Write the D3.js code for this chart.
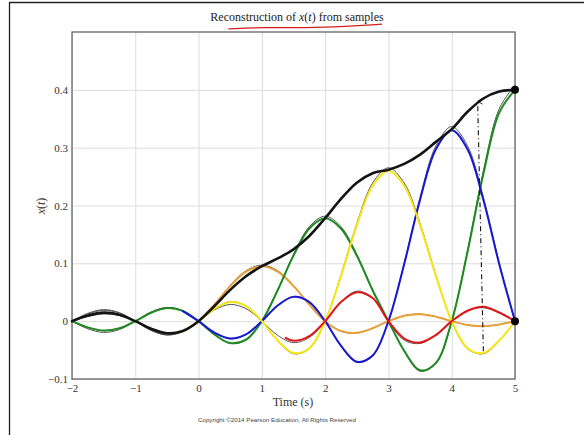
<!DOCTYPE html>
<html>
<head>
<meta charset="utf-8">
<script src="https://cdn.jsdelivr.net/npm/d3@7"></script>
<style>
  html, body { margin: 0; padding: 0; background: #fff; }
  svg { display: block; }
</style>
</head>
<body>
<svg id="chart" width="584" height="435"></svg>
<script>
// sample grid (seconds)
const times = [-2, -1.75, -1.5, -1.25, -1, -0.75, -0.5, -0.25, 0, 0.25, 0.5, 0.75, 1, 1.25, 1.5,
  1.75, 2, 2.25, 2.5, 2.75, 3, 3.25, 3.5, 3.75, 4, 4.25, 4.5, 4.75, 5];

// original thin sinc pulses, one per sample (t = 1..5)
const pulse1 = [0, 0.0078, 0.0121, 0.0095, 0, -0.0122, -0.0202, -0.0171, 0, 0.0285, 0.0605, 0.0855, 0.095, 0.0855, 0.0605,
  0.0285, 0, -0.0171, -0.0202, -0.0122, 0, 0.0095, 0.0121, 0.0078, 0, -0.0066, -0.0086, -0.0057, 0];
const pulse2 = [0, -0.0107, -0.0162, -0.0123, 0, 0.0146, 0.0227, 0.0178, 0, -0.0229, -0.0378, -0.0321, 0, 0.0534, 0.1133,
  0.1603, 0.178, 0.1603, 0.1133, 0.0534, 0, -0.0321, -0.0378, -0.0229, 0, 0.0178, 0.0227, 0.0146, 0];
const pulse3 = [0, 0.0123, 0.0184, 0.0138, 0, -0.0156, -0.0236, -0.018, 0, 0.0213, 0.0331, 0.026, 0, -0.0334, -0.0552,
  -0.0468, 0, 0.078, 0.1655, 0.2341, 0.26, 0.2341, 0.1655, 0.078, 0, -0.0468, -0.0552, -0.0334, 0];
const pulse4 = [0, -0.0129, -0.0191, -0.0142, 0, 0.0156, 0.0233, 0.0175, 0, -0.0198, -0.03, -0.0229, 0, 0.027, 0.042,
  0.033, 0, -0.0424, -0.07, -0.0594, 0, 0.099, 0.2101, 0.2971, 0.33, 0.2971, 0.2101, 0.099, 0];
const pulse5 = [0, 0.0133, 0.0196, 0.0144, 0, -0.0156, -0.0232, -0.0172, 0, 0.019, 0.0283, 0.0212, 0, -0.024, -0.0364,
  -0.0277, 0, 0.0327, 0.0509, 0.04, 0, -0.0514, -0.0849, -0.072, 0, 0.12, 0.2546, 0.3601, 0.4];

// reconstructed signal (thick black)
const reconstruction = [0, 0.0098, 0.0148, 0.0112, 0, -0.0132, -0.021, -0.017, 0, 0.0261, 0.0541, 0.0777, 0.095, 0.1085, 0.1242,
  0.1473, 0.178, 0.2115, 0.2395, 0.2559, 0.262, 0.272, 0.288, 0.31, 0.332, 0.362, 0.385, 0.397, 0.4];

// hand-coloured traces
const greenTrace = [0, -0.0107, -0.0162, -0.0123, 0, 0.0146, 0.0227, 0.0178, 0, -0.0229, -0.0378, -0.0321, 0, 0.0534, 0.1133,
  0.1603, 0.178, 0.1603, 0.1133, 0.0534, 0, -0.0514, -0.0849, -0.072, 0, 0.12, 0.2546, 0.3601, 0.4];
const redTimes = [1.375, 1.5, 1.75, 2, 2.25, 2.5, 2.75, 3, 3.25, 3.5, 3.75, 4, 4.25, 4.5, 4.75, 5];
const redTrace = [-0.029, -0.034, -0.026, 0, 0.033, 0.05, 0.04, 0, -0.03, -0.037, -0.024, 0, 0.018, 0.025, 0.015, 0];

// dashed arrow and end dots
const arrowTimes = [4.5, 4.41];
const arrowValues = [-0.052, 0.38];
const dotTimes = [5, 5];
const dotValues = [0.4, 0];

const xTicks = [-2, -1, 0, 1, 2, 3, 4, 5];
const yTicks = [-0.1, 0, 0.1, 0.2, 0.3, 0.4];
const yTickLabels = ["\u22120.1", "0", "0.1", "0.2", "0.3", "0.4"];

const svg = d3.select("#chart");
const plot = { left: 72, right: 515, top: 32, bottom: 379 };
const serif = "'Liberation Serif', 'Times New Roman', serif";

const x = d3.scaleLinear().domain([-2, 5]).range([plot.left, plot.right]);
const y = d3.scaleLinear().domain([-0.1, 0.5]).range([plot.bottom, plot.top]);
// the printed pulses sit a hair outside the coloured strokes
const yPrint = d3.scaleLinear().domain([-0.1 / 1.02, 0.5 / 1.02]).range([plot.bottom, plot.top]);

// page frame
svg.append("line").attr("x1", 9).attr("x2", 584).attr("y1", 2.5).attr("y2", 2.5)
  .attr("stroke", "#222").attr("stroke-width", 1.3);
svg.append("line").attr("x1", 9.5).attr("x2", 9.5).attr("y1", 2).attr("y2", 435)
  .attr("stroke", "#222").attr("stroke-width", 1.3);

// grid + axes
const xAxis = svg.append("g")
  .attr("transform", `translate(0,${plot.bottom})`)
  .call(d3.axisBottom(x).tickValues(xTicks).tickSize(-(plot.bottom - plot.top)).tickPadding(5)
    .tickFormat(d => d < 0 ? "\u2212" + Math.abs(d) : d));
const yAxis = svg.append("g")
  .attr("transform", `translate(${plot.left},0)`)
  .call(d3.axisLeft(y).tickValues(yTicks).tickSize(-(plot.right - plot.left)).tickPadding(4)
    .tickFormat((d, i) => yTickLabels[i]));

[xAxis, yAxis].forEach(a => {
  a.attr("font-family", serif).attr("font-size", 11);
  a.select(".domain").remove();
  a.selectAll(".tick line").attr("stroke", "#dcdcdc").attr("stroke-width", 1);
  a.selectAll(".tick text").attr("fill", "#333");
});

svg.append("rect")
  .attr("x", plot.left).attr("y", plot.top)
  .attr("width", plot.right - plot.left).attr("height", plot.bottom - plot.top)
  .attr("fill", "none").attr("stroke", "#666").attr("stroke-width", 1.3);

// curves
const printLine = d3.line().x((d, i) => x(times[i])).y(d => yPrint(d)).curve(d3.curveCatmullRom);
const line = d3.line().x(d => x(d[0])).y(d => y(d[1])).curve(d3.curveCatmullRom);
const from = (vals, t0) => times.map((t, i) => [t, vals[i]]).filter(p => p[0] >= t0);

const curves = svg.append("g").attr("fill", "none").attr("stroke-linecap", "round").attr("stroke-linejoin", "round");

[pulse1, pulse2, pulse3, pulse4, pulse5].forEach(p => {
  curves.append("path").attr("d", printLine(p)).attr("stroke", "#555").attr("stroke-width", 1);
});

const traces = [
  { pts: from(pulse1, 0), color: "#e9a13a" },
  { pts: from(greenTrace, -2), color: "#1e8a22" },
  { pts: from(pulse4, -0.25), color: "#1818d4" },
  { pts: from(pulse3, -0.25), color: "#f6e713" },
  { pts: redTimes.map((t, i) => [t, redTrace[i]]), color: "#e01616" }
];
traces.forEach(tr => {
  curves.append("path").attr("d", line(tr.pts)).attr("stroke", tr.color).attr("stroke-width", 2);
});

curves.append("path")
  .attr("d", line(times.map((t, i) => [t, reconstruction[i]])))
  .attr("stroke", "#141414").attr("stroke-width", 2.6);

// dashed arrow
svg.append("defs").append("marker")
  .attr("id", "head").attr("viewBox", "0 0 10 10").attr("refX", 5).attr("refY", 1)
  .attr("markerWidth", 7).attr("markerHeight", 7).attr("orient", "auto-start-reverse")
  .attr("markerUnits", "userSpaceOnUse")
  .append("path").attr("d", "M1,8 L5,1 L9,8").attr("fill", "none").attr("stroke", "#111").attr("stroke-width", 1.2);

svg.append("line")
  .attr("x1", x(arrowTimes[0])).attr("y1", y(arrowValues[0]))
  .attr("x2", x(arrowTimes[1])).attr("y2", y(arrowValues[1]))
  .attr("stroke", "#111").attr("stroke-width", 1.1)
  .attr("stroke-dasharray", "5,3,1,3")
  .attr("marker-end", "url(#head)");

svg.selectAll(".dot")
  .data(dotTimes.map((t, i) => [t, dotValues[i]]))
  .join("circle")
  .attr("class", "dot")
  .attr("cx", d => x(d[0])).attr("cy", d => y(d[1])).attr("r", 4)
  .attr("fill", "#000");

// title with red underline
const title = svg.append("text")
  .attr("x", 297).attr("y", 21).attr("text-anchor", "middle")
  .attr("font-family", serif).attr("font-size", 12).attr("fill", "#222");
title.append("tspan").text("Reconstruction of ");
title.append("tspan").attr("font-style", "italic").text("x");
title.append("tspan").text("(");
title.append("tspan").attr("font-style", "italic").text("t");
title.append("tspan").text(") from samples");

const bb = title.node().getBBox();
const ul = [[bb.x + 18, 28.8], [bb.x + 55, 27.4], [bb.x + 95, 27.9], [bb.x + 135, 26.4], [bb.x + bb.width - 2, 24.2]];
svg.append("path")
  .attr("d", d3.line().curve(d3.curveBasis)(ul))
  .attr("fill", "none").attr("stroke", "#d41f1f").attr("stroke-width", 1.3);

// axis labels
svg.append("text")
  .attr("x", 293).attr("y", 406).attr("text-anchor", "middle")
  .attr("font-family", serif).attr("font-size", 12).attr("fill", "#333")
  .text("Time (s)");

const yl = svg.append("text")
  .attr("transform", "translate(45,206) rotate(-90)").attr("text-anchor", "middle")
  .attr("font-family", serif).attr("font-size", 12).attr("fill", "#333");
yl.append("tspan").attr("font-style", "italic").text("x");
yl.append("tspan").text("(");
yl.append("tspan").attr("font-style", "italic").text("t");
yl.append("tspan").text(")");

svg.append("text")
  .attr("x", 277).attr("y", 422).attr("text-anchor", "middle")
  .attr("font-family", "'Liberation Sans', Arial, sans-serif").attr("font-size", 6.2).attr("fill", "#444")
  .text("Copyright \u00A92014 Pearson Education, All Rights Reserved");
</script>
</body>
</html>
